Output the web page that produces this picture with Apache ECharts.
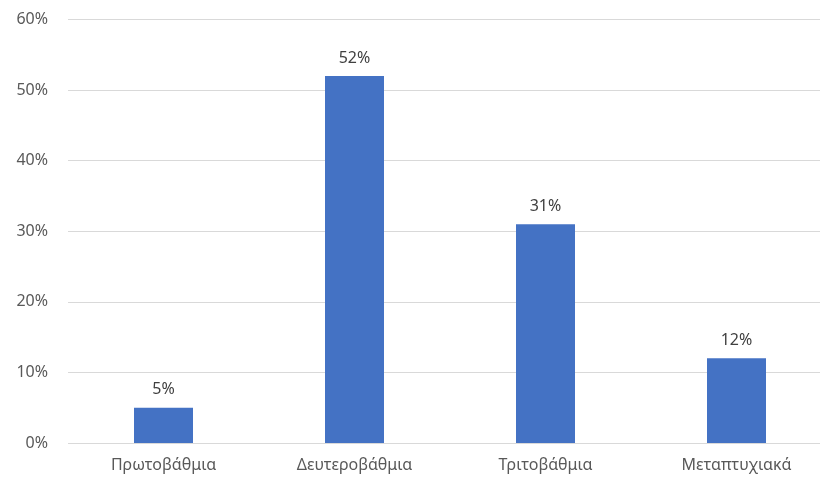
<!DOCTYPE html>
<html>
<head>
<meta charset="utf-8">
<script src="https://cdn.jsdelivr.net/npm/echarts@6/dist/echarts.min.js"></script>
<style>
html,body{margin:0;padding:0;background:#fff;overflow:hidden;width:820px;height:483px;}
#chart{width:832px;height:483px;}
</style>
</head>
<body>
<div id="chart"></div>
<script>
// επίπεδο εκπαίδευσης
var categories = ['Πρωτοβάθμια', 'Δευτεροβάθμια', 'Τριτοβάθμια', 'Μεταπτυχιακά'];
var values = [5, 52, 31, 12];
var yTicks = [0, 10, 20, 30, 40, 50, 60];

var chart = echarts.init(document.getElementById('chart'));
chart.setOption({
    animation: false,
    grid: {
        left: 68,
        right: 0,
        top: 19.5,
        bottom: 40
    },
    xAxis: {
        type: 'category',
        data: categories,
        axisLine: {show: false},
        axisTick: {show: false},
        axisLabel: {
            color: '#595959',
            fontSize: 16,
            fontFamily: 'Noto Sans',
            margin: 14
        }
    },
    yAxis: {
        type: 'value',
        min: yTicks[0],
        max: yTicks[yTicks.length - 1],
        interval: 10,
        axisLine: {show: false},
        axisTick: {show: false},
        axisLabel: {
            color: '#595959',
            fontSize: 16,
            fontFamily: 'Noto Sans',
            margin: 20,
            formatter: '{value}%'
        },
        splitLine: {
            lineStyle: {color: '#d9d9d9', width: 1}
        }
    },
    series: [{
        type: 'bar',
        data: values,
        barWidth: 59,
        itemStyle: {color: '#4472c4'},
        label: {
            show: true,
            position: 'top',
            distance: 10,
            color: '#404040',
            fontSize: 16,
            fontFamily: 'Noto Sans',
            formatter: '{c}%'
        }
    }]
});
</script>
</body>
</html>
